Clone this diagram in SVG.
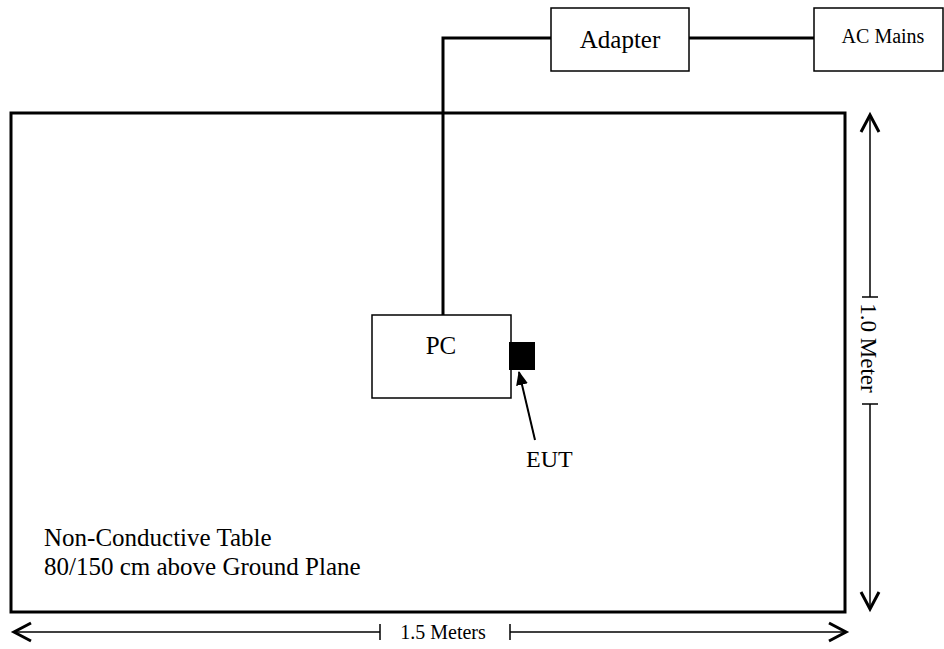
<svg xmlns="http://www.w3.org/2000/svg" width="944" height="649" viewBox="0 0 944 649">
<style>
.box{fill:#fff;stroke:#000;stroke-width:1.5}
.t{font-family:"Liberation Serif",serif;fill:#000}
.wire{fill:none;stroke:#000;stroke-width:3}
.dim{fill:none;stroke:#000;stroke-width:1.5}
.head{fill:none;stroke:#000;stroke-width:3;stroke-linejoin:miter}
</style>
<defs>
<marker id="ah" markerWidth="14" markerHeight="12" refX="13" refY="6" orient="auto" markerUnits="userSpaceOnUse">
<path d="M0,0 L14,6 L0,12 Z" fill="#000"/>
</marker>
</defs>
<g id="table">
<rect x="11" y="113" width="834" height="499" fill="#fff" stroke="#000" stroke-width="3"/>
<text class="t" x="44" y="546" font-size="25">Non-Conductive Table</text>
<text class="t" x="44" y="575" font-size="25">80/150 cm above Ground Plane</text>
</g>
<g id="connectors">
<polyline class="wire" points="551,38 443,38 443,315"/>
<line class="wire" x1="689" y1="38" x2="814" y2="38"/>
<line x1="535" y1="440" x2="519" y2="372" stroke="#000" stroke-width="2" marker-end="url(#ah)"/>
</g>
<g id="adapter">
<rect class="box" x="551" y="8" width="138" height="63"/>
<text class="t" x="620" y="48" font-size="25" text-anchor="middle">Adapter</text>
</g>
<g id="acmains">
<rect class="box" x="814" y="8" width="129" height="63"/>
<text class="t" x="883" y="43" font-size="20" text-anchor="middle">AC Mains</text>
</g>
<g id="pc">
<rect class="box" x="372" y="315" width="139" height="83"/>
<text class="t" x="441" y="354" font-size="25" text-anchor="middle">PC</text>
</g>
<g id="eut">
<rect x="509" y="342" width="26" height="28" fill="#000"/>
<text class="t" x="526" y="467" font-size="24">EUT</text>
</g>
<g id="dim-vertical">
<line class="dim" x1="870" y1="116" x2="870" y2="297"/>
<line class="dim" x1="870" y1="404" x2="870" y2="608"/>
<line class="dim" x1="862" y1="297" x2="878" y2="297"/>
<line class="dim" x1="862" y1="404" x2="878" y2="404"/>
<polyline class="head" points="861,132 870,115 879,132"/>
<polyline class="head" points="861,592 870,609 879,592"/>
<text class="t" font-size="23" text-anchor="middle" transform="translate(861,348) rotate(90)">1.0 Meter</text>
</g>
<g id="dim-horizontal">
<line class="dim" x1="14" y1="632" x2="380" y2="632"/>
<line class="dim" x1="510" y1="632" x2="846" y2="632"/>
<line class="dim" x1="380" y1="624" x2="380" y2="640"/>
<line class="dim" x1="510" y1="624" x2="510" y2="640"/>
<polyline class="head" points="31,623 14,632 31,641"/>
<polyline class="head" points="829,623 846,632 829,641"/>
<text class="t" x="443" y="639" font-size="20" text-anchor="middle">1.5 Meters</text>
</g>
</svg>
